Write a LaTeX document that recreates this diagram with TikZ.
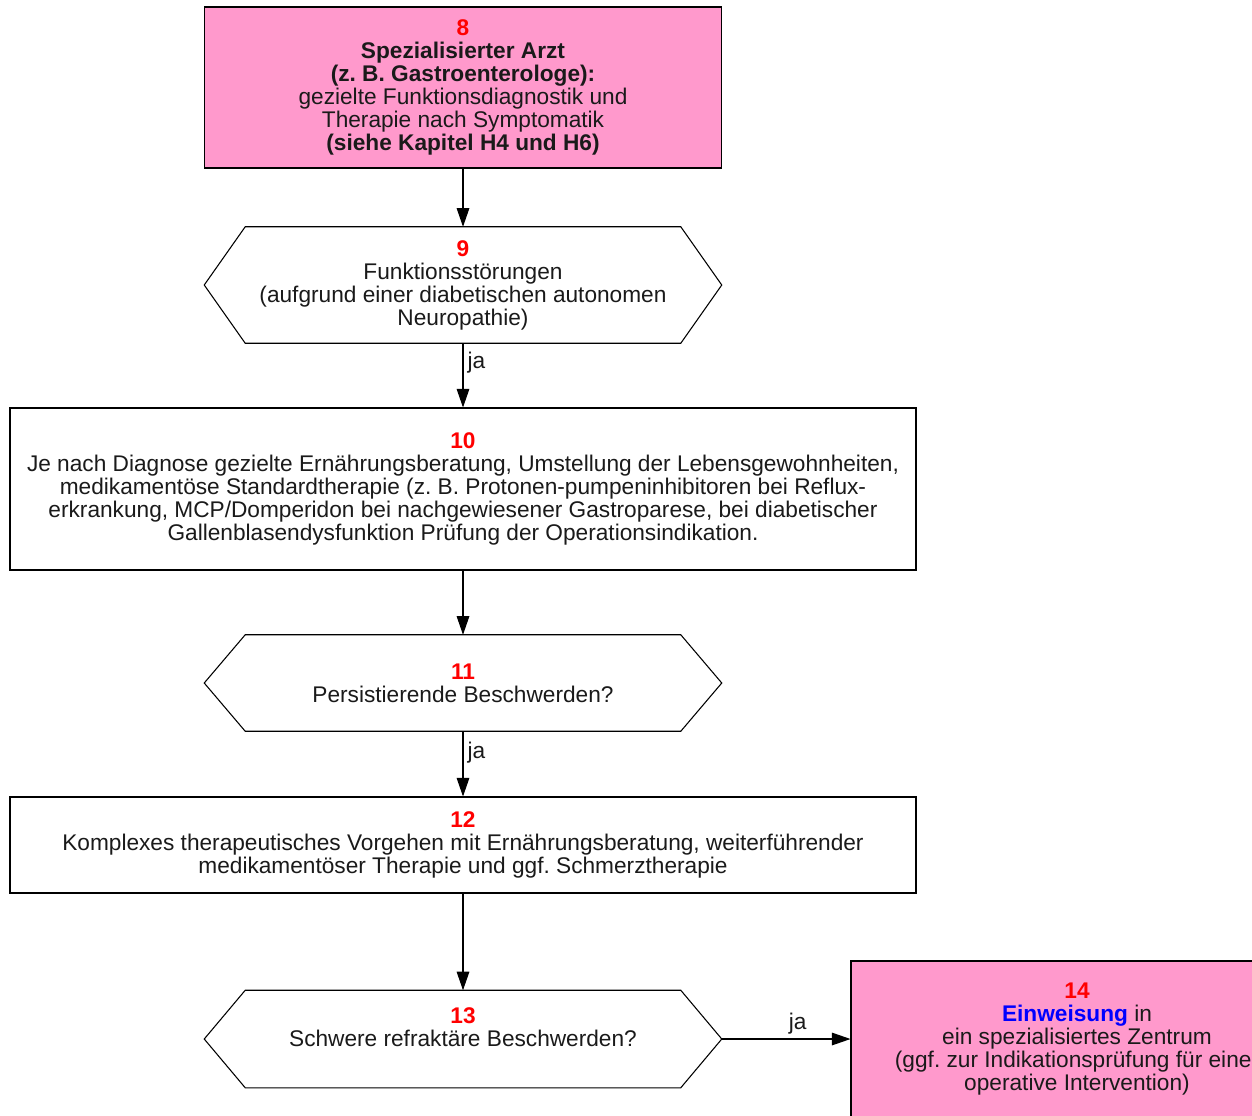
\documentclass[tikz,border=0pt]{standalone}
\usepackage{fontspec}
\setmainfont{Liberation Sans}
\usetikzlibrary{arrows.meta,calc}
\definecolor{pinkfill}{HTML}{FF99CC}
\definecolor{numred}{HTML}{FF0000}
\definecolor{linkblue}{HTML}{0000FF}
\definecolor{txtgray}{HTML}{1A1A1A}
\frenchspacing
\newcommand\stepnum[1]{{\color{numred}\bfseries #1}}
\tikzset{
  txtfont/.style={font=\fontsize{17}{17.25}\selectfont},
  box/.style={draw=black, line width=0.8pt, rectangle, inner sep=0pt, align=center, txtfont, text=txtgray},
  pinkbox/.style={box, fill=pinkfill},
  hexnode/.style={rectangle, inner sep=0pt, align=center, txtfont, text=txtgray, minimum width=387.75pt, minimum height=72.75pt},
  arr/.style={draw=black, line width=0.8pt, -{Triangle[length=14pt,width=9.5pt]}},
  lbl/.style={txtfont, inner sep=3pt, text=txtgray}
}
\newcommand\hexdraw[1]{\draw[line width=0.8pt] (#1.west) -- ($(#1.north west)+(41,0)$) -- ($(#1.north east)+(-41,0)$) -- (#1.east) -- ($(#1.south east)+(-41,0)$) -- ($(#1.south west)+(41,0)$) -- cycle;}
\begin{document}
\begin{tikzpicture}[x=0.75pt,y=-0.75pt]
\useasboundingbox (0,0) rectangle (1252,1115);
\clip (0,0) rectangle (1252,1115);
\fill[white] (0,0) rectangle (1252,1115);

\node[pinkbox, minimum width=387.75pt, minimum height=120.75pt] (n8) at (463,87.5)
  {\stepnum{8}\\ \textbf{Spezialisierter Arzt}\\ \textbf{(z. B. Gastroenterologe):}\\ gezielte Funktionsdiagnostik und\\ Therapie nach Symptomatik\\ \textbf{(siehe Kapitel H4 und H6)}};

\node[hexnode, minimum height=87pt] (n9) at (463,285)
  {\stepnum{9}\\ Funktionsstörungen\\ (aufgrund einer diabetischen autonomen\\ Neuropathie)};
\hexdraw{n9}

\node[box, minimum width=679.5pt, minimum height=121.5pt] (n10) at (463,489)
  {\stepnum{10}\\ Je nach Diagnose gezielte Ernährungsberatung, Umstellung der Lebensgewohnheiten,\\ medikamentöse Standardtherapie (z. B. Protonen-pumpeninhibitoren bei Reflux-\\ erkrankung, MCP/Domperidon bei nachgewiesener Gastroparese, bei diabetischer\\ Gallenblasendysfunktion Prüfung der Operationsindikation.};

\node[hexnode, minimum height=72pt] (n11) at (463,683)
  {\stepnum{11}\\ Persistierende Beschwerden?};
\hexdraw{n11}

\node[box, minimum width=679.5pt, minimum height=72pt] (n12) at (463,845)
  {\stepnum{12}\\ Komplexes therapeutisches Vorgehen mit Ernährungsberatung, weiterführender\\ medikamentöser Therapie und ggf. Schmerztherapie};

\node[hexnode, minimum height=72.75pt] (n13) at (463,1039)
  {\stepnum{13}\\ Schwere refraktäre Beschwerden?\\ ~};
\hexdraw{n13}

\node[pinkbox, minimum width=339pt, minimum height=117pt] (n14) at (1077,1039)
  {\stepnum{14}\\ {\color{linkblue}\bfseries Einweisung} in\\ ein spezialisiertes Zentrum\\ (ggf. zur Indikationsprüfung für einer\\ operative Intervention)};

\draw[arr] (n8.south) -- (n9.north);
\draw[arr] (n9.south) -- node[lbl, pos=0.3, right] (ja1) {ja} (n10.north);
\draw[arr] (n10.south) -- (n11.north);
\draw[arr] (n11.south) -- node[lbl, pos=0.33, right] (ja2) {ja} (n12.north);
\draw[arr] (n12.south) -- (n13.north);
\draw[arr] (n13.east) -- node[lbl, pos=0.59, above] (ja3) {ja} (n14.west);
\end{tikzpicture}
\end{document}
